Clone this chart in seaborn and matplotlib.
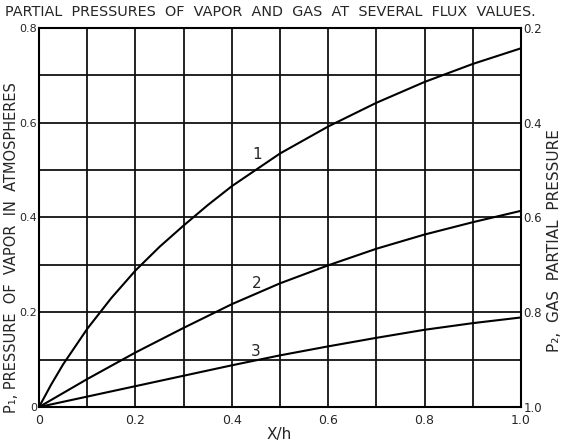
import numpy as np
import pandas as pd
import matplotlib
matplotlib.use('Agg')
import matplotlib.pyplot as plt
import seaborn as sns

# values
x_curve1 = [0.0, 0.025, 0.05, 0.1, 0.15, 0.2, 0.25, 0.3, 0.35, 0.4, 0.5, 0.6, 0.7, 0.8, 0.9, 1.0]
p1_curve1 = [0.0, 0.047, 0.09, 0.165, 0.23, 0.288, 0.338, 0.383, 0.426, 0.466, 0.535,
             0.592, 0.642, 0.686, 0.724, 0.757]
x_curve23 = [0.0, 0.1, 0.2, 0.3, 0.4, 0.5, 0.6, 0.7, 0.8, 0.9, 1.0]
p1_curve2 = [0.0, 0.059, 0.115, 0.167, 0.217, 0.261, 0.299, 0.334, 0.364, 0.39, 0.414]
p1_curve3 = [0.0, 0.022, 0.044, 0.066, 0.088, 0.109, 0.128, 0.146, 0.163, 0.177, 0.189]
curve_names = ['1', '2', '3']
label_pos = [(0.452, 0.532), (0.452, 0.26), (0.45, 0.118)]

left_ticks = [0, 0.2, 0.4, 0.6, 0.8]
left_labels = ['0', '0.2', '0.4', '0.6', '0.8']
bottom_ticks = [0, 0.2, 0.4, 0.6, 0.8, 1.0]
bottom_labels = ['0', '0.2', '0.4', '0.6', '0.8', '1.0']
right_ticks = [1.0, 0.8, 0.6, 0.4, 0.2]
right_labels = ['1.0', '0.8', '0.6', '0.4', '0.2']

df = pd.DataFrame({
    'x': x_curve1 + x_curve23 + x_curve23,
    'p1': p1_curve1 + p1_curve2 + p1_curve3,
    'curve': ['1'] * len(x_curve1) + ['2'] * len(x_curve23) + ['3'] * len(x_curve23),
})

sns.set_style('white')
plt.rcParams['font.family'] = ['DejaVu Sans']

fig = plt.figure(figsize=(5.68, 4.46), dpi=100)
ax = fig.add_axes([0.0687, 0.0874, 0.8485, 0.85])

# grid every 0.1
for gx in np.arange(0.1, 1.0, 0.1):
    ax.axvline(gx, color='#111111', lw=1.3, zorder=1)
for gy in np.arange(0.1, 0.8, 0.1):
    ax.axhline(gy, color='#111111', lw=1.3, zorder=1)

sns.lineplot(data=df, x='x', y='p1', hue='curve', palette=['black'] * 3,
             legend=False, lw=1.5, ax=ax, zorder=3)

for name, (lx, ly) in zip(curve_names, label_pos):
    ax.text(lx, ly, name, fontsize=11, ha='center', va='center')

ax.set_xlim(0, 1.0)
ax.set_ylim(0, 0.8)
for s in ax.spines.values():
    s.set_color('black')
    s.set_linewidth(1.5)

ax.set_xticks(bottom_ticks)
ax.set_xticklabels(bottom_labels, fontsize=9)
ax.set_yticks(left_ticks)
ax.set_yticklabels(left_labels, fontsize=8)
ax.tick_params(axis='x', length=0, pad=5)
ax.tick_params(axis='y', length=0, pad=1.5)
ax.set_xlabel('X/h', fontsize=11)
ax.xaxis.set_label_coords(0.498, -0.054)
ax.set_ylabel('P\u2081, PRESSURE  OF  VAPOR  IN  ATMOSPHERES', fontsize=10.5)
ax.yaxis.set_label_coords(-0.041, 0.42)

ax2 = ax.twinx()
ax2.set_ylim(1.0, 0.2)
ax2.set_yticks(right_ticks)
ax2.set_yticklabels(right_labels, fontsize=8.5)
ax2.tick_params(length=0, pad=2)
for s in ax2.spines.values():
    s.set_visible(False)
ax2.set_ylabel('P\u2082,  GAS  PARTIAL  PRESSURE', fontsize=11, rotation=90)
ax2.yaxis.set_label_coords(1.053, 0.438)

fig.text(0.009, 0.972, 'PARTIAL  PRESSURES  OF  VAPOR  AND  GAS  AT  SEVERAL  FLUX  VALUES.',
         fontsize=10.4, ha='left', va='center')

fig.savefig('out.png', dpi=100, facecolor='white')
